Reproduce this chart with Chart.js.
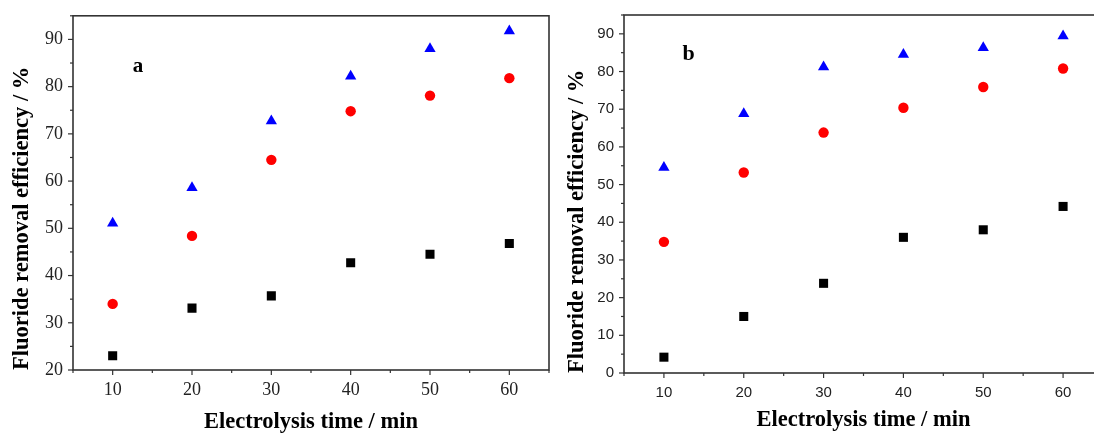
<!DOCTYPE html>
<html><head><meta charset="utf-8">
<script src="https://cdn.jsdelivr.net/npm/chart.js@4.4.0/dist/chart.umd.min.js"></script>
<style>
html,body{margin:0;padding:0;background:#fff;overflow:hidden;width:1094px;height:433px;position:relative;}
canvas{position:absolute;top:0;}
#ca{left:0;}
#cb{left:555px;}
</style></head><body>
<canvas id="ca" width="560" height="433"></canvas>
<canvas id="cb" width="560" height="433"></canvas>
<script>
// ---- data ----
const times = [10, 20, 30, 40, 50, 60];
const aSquare   = [23.0, 33.1, 35.7, 42.7, 44.5, 46.8];
const aCircle   = [34.0, 48.4, 64.5, 74.8, 78.1, 81.8];
const aTriangle = [51.1, 58.6, 72.7, 82.2, 88.0, 91.8];
const bSquare   = [4.2, 15.0, 23.8, 36.0, 38.0, 44.2];
const bCircle   = [34.8, 53.2, 63.8, 70.4, 75.9, 80.8];
const bTriangle = [54.5, 68.8, 81.2, 84.5, 86.3, 89.4];
const xTickLabels = [10, 20, 30, 40, 50, 60];
const aYTickLabels = [20, 30, 40, 50, 60, 70, 80, 90];
const bYTickLabels = [0, 10, 20, 30, 40, 50, 60, 70, 80, 90];
const xTitle = 'Electrolysis time / min';
const yTitle = 'Fluoride removal efficiency / %';

const pts = arr => arr.map((v, i) => ({x: times[i], y: v}));

const framePlugin = {
  id: 'frame',
  afterDraw(chart) {
    const {ctx, chartArea: {left, right, top, bottom}} = chart;
    ctx.save();
    ctx.strokeStyle = '#333';
    ctx.lineWidth = 1.6;
    ctx.strokeRect(left, top, right - left, bottom - top);
    ctx.lineWidth = 1.2;
    ['x', 'y'].forEach(id => {
      const s = chart.scales[id];
      s.ticks.forEach(t => {
        const len = (Math.round(t.value) % 10 === 0) ? 5 : 3;
        const p = s.getPixelForValue(t.value);
        ctx.beginPath();
        if (id === 'x') { ctx.moveTo(p, bottom); ctx.lineTo(p, bottom + len); }
        else { ctx.moveTo(left, p); ctx.lineTo(left - len, p); }
        ctx.stroke();
      });
    });
    const lab = chart.options.plugins.frame;
    if (lab && lab.text) {
      ctx.fillStyle = '#000';
      ctx.font = lab.font;
      ctx.textAlign = 'center';
      ctx.textBaseline = 'middle';
      const xs = chart.scales.x, ys = chart.scales.y;
      ctx.fillText(lab.text, xs.getPixelForValue(lab.x), ys.getPixelForValue(lab.y));
    }
    ctx.restore();
  }
};

function makeChart(id, cfg) {
  const titleFont = {family: '"Liberation Serif", "Times New Roman", serif', size: 22.5, weight: 'bold', lineHeight: 1};
  return new Chart(document.getElementById(id), {
    type: 'scatter',
    data: {
      datasets: [
        {data: pts(cfg.sq), pointStyle: 'rect', pointRadius: 6.4, backgroundColor: '#000', borderColor: '#000', borderWidth: 0},
        {data: pts(cfg.ci), pointStyle: 'circle', pointRadius: 5.2, backgroundColor: '#ff0000', borderColor: '#ff0000', borderWidth: 0},
        {data: pts(cfg.tr), pointStyle: 'triangle', pointRadius: 6.5, backgroundColor: '#0000ff', borderColor: '#0000ff', borderWidth: 0}
      ]
    },
    options: {
      responsive: false,
      animation: false,
      layout: {padding: {top: 15, right: cfg.padRight, left: 0, bottom: 0}},
      plugins: {
        legend: {display: false},
        tooltip: {enabled: false},
        frame: {text: cfg.label, x: cfg.labelX, y: cfg.labelY, font: cfg.labelFont}
      },
      scales: {
        x: {
          type: 'linear', min: 5, max: 65,
          afterFit: s => { s.height = cfg.xHeight; },
          grid: {display: false, drawTicks: true, tickLength: 5},
          border: {display: false},
          ticks: {stepSize: 5, autoSkip: false, maxRotation: 0, padding: cfg.xPad, color: '#222', font: cfg.tickFont,
                  callback: v => xTickLabels.includes(v) ? String(v) : ''},
          title: {display: true, text: xTitle, color: '#000', font: titleFont, padding: {top: 0, bottom: cfg.xTitlePad}}
        },
        y: {
          type: 'linear', min: cfg.yMin, max: 95,
          afterFit: s => { s.width = cfg.yWidth; },
          grid: {display: false, drawTicks: true, tickLength: 5},
          border: {display: false},
          ticks: {stepSize: 5, autoSkip: false, padding: 5, color: '#222', font: cfg.tickFont,
                  callback: v => cfg.yLabels.includes(v) ? String(v) : ''},
          title: {display: true, text: yTitle, color: '#000', font: titleFont, align: 'start', padding: {top: 11, bottom: 0}}
        }
      }
    },
    plugins: [framePlugin]
  });
}

makeChart('ca', {
  sq: aSquare, ci: aCircle, tr: aTriangle, yMin: 20, yLabels: aYTickLabels,
  padRight: 11, xHeight: 63, yWidth: 73, xPad: 4, xTitlePad: 0,
  tickFont: {family: '"Liberation Serif", "Times New Roman", serif', size: 18},
  label: 'a', labelX: 13.2, labelY: 84.2, labelFont: 'bold 21px "Liberation Serif", serif'
});
makeChart('cb', {
  sq: bSquare, ci: bCircle, tr: bTriangle, yMin: 0, yLabels: bYTickLabels,
  padRight: 12, xHeight: 60, yWidth: 69, xPad: 6, xTitlePad: 2,
  tickFont: {family: '"Liberation Sans", Arial, sans-serif', size: 15},
  label: 'b', labelX: 13.1, labelY: 84.5, labelFont: 'bold 22px "Liberation Serif", serif'
});
</script>
</body></html>
